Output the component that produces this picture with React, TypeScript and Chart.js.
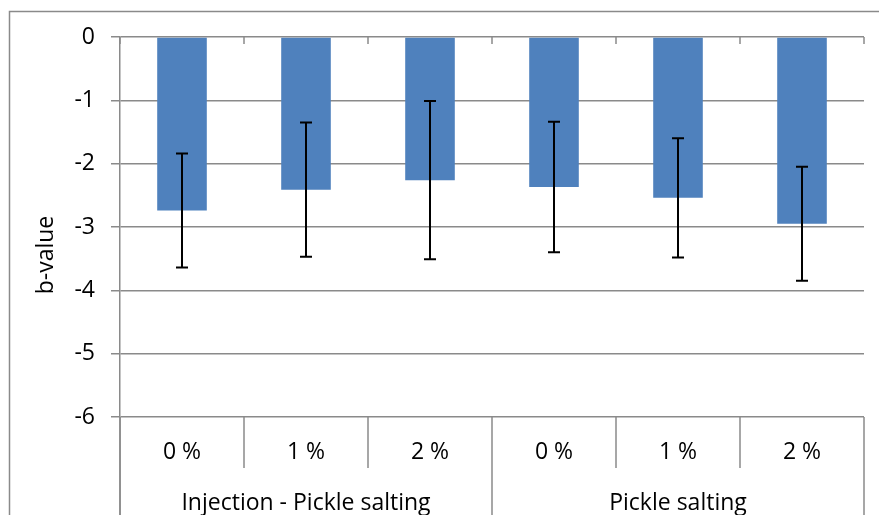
import React, { useEffect, useRef } from "react";
import { Chart, registerables } from "chart.js";

Chart.register(...registerables);

const categories = ["0 %", "1 %", "2 %", "0 %", "1 %", "2 %"];
const groups = ["Injection - Pickle salting", "Pickle salting"];
const groupSizes = [3, 3];
const bValues = [-2.74, -2.41, -2.26, -2.37, -2.54, -2.95];
const errors = [0.9, 1.06, 1.25, 1.03, 0.94, 0.9];
const yMin = -6;
const yMax = 0;
const yStep = 1;
const yTitle = "b-value";

const FONT = '"Open Sans", "Noto Sans", sans-serif';
const GRID = "#8a8a8a";
const FS = 23;

const customPlugin = {
  id: "custom",
  afterDatasetsDraw(chart: any) {
    const ctx = chart.ctx;
    const meta = chart.getDatasetMeta(0);
    const y = chart.scales.y;
    ctx.save();
    ctx.strokeStyle = "#000";
    ctx.lineWidth = 2;
    meta.data.forEach((bar: any, i: number) => {
      const cx = Math.round(bar.x);
      const top = y.getPixelForValue(bValues[i] + errors[i]);
      const bot = y.getPixelForValue(bValues[i] - errors[i]);
      ctx.beginPath();
      ctx.moveTo(cx, top);
      ctx.lineTo(cx, bot);
      ctx.moveTo(cx - 6, top);
      ctx.lineTo(cx + 6, top);
      ctx.moveTo(cx - 6, bot);
      ctx.lineTo(cx + 6, bot);
      ctx.stroke();
    });
    ctx.restore();
  },
  afterDraw(chart: any) {
    const ctx = chart.ctx;
    const { left, right, top, bottom } = chart.chartArea;
    const n = categories.length;
    const w = (right - left) / n;
    ctx.save();
    ctx.strokeStyle = GRID;
    ctx.lineWidth = 1.5;
    // outer frame
    ctx.beginPath();
    ctx.moveTo(9.5, chart.height);
    ctx.lineTo(9.5, 11.5);
    ctx.lineTo(chart.width, 11.5);
    ctx.stroke();
    // left axis extension
    ctx.beginPath();
    ctx.moveTo(left, bottom);
    ctx.lineTo(left, chart.height);
    ctx.stroke();
    // category ticks at top (axis crosses at 0)
    for (let i = 0; i <= n; i++) {
      const x = left + i * w;
      ctx.beginPath();
      ctx.moveTo(x, top);
      ctx.lineTo(x, top + 7);
      ctx.stroke();
    }
    // boundaries below plot
    const groupEdges = new Set<number>();
    let acc = 0;
    groupEdges.add(0);
    groupSizes.forEach((s) => {
      acc += s;
      groupEdges.add(acc);
    });
    for (let i = 0; i <= n; i++) {
      const x = left + i * w;
      ctx.beginPath();
      ctx.moveTo(x, bottom);
      ctx.lineTo(x, groupEdges.has(i) ? chart.height : bottom + 51);
      ctx.stroke();
    }
    // labels
    ctx.fillStyle = "#000";
    ctx.font = `${FS}px ${FONT}`;
    ctx.textAlign = "center";
    ctx.textBaseline = "middle";
    categories.forEach((c, i) => {
      ctx.fillText(c, left + (i + 0.5) * w, bottom + 35);
    });
    let start = 0;
    groups.forEach((g, gi) => {
      const s = groupSizes[gi];
      ctx.fillText(g, left + (start + s / 2) * w, bottom + 86);
      start += s;
    });
    // y title
    ctx.translate(46, 255);
    ctx.rotate(-Math.PI / 2);
    ctx.fillText(yTitle, 0, 0);
    ctx.restore();
  },
};

export default function App() {
  const ref = useRef<HTMLCanvasElement>(null);
  useEffect(() => {
    if (!ref.current) return;
    const chart = new Chart(ref.current, {
      type: "bar",
      data: {
        labels: categories,
        datasets: [
          {
            data: bValues,
            backgroundColor: "#4F81BD",
            borderWidth: 0,
            barPercentage: 0.4,
            categoryPercentage: 1,
          },
        ],
      },
      options: {
        responsive: false,
        animation: false,
        layout: { padding: { left: 0, top: 37, right: 15, bottom: 98 } },
        plugins: { legend: { display: false }, tooltip: { enabled: false } },
        scales: {
          x: { display: false },
          y: {
            min: yMin,
            max: yMax,
            ticks: {
              stepSize: yStep,
              color: "#000",
              font: { family: FONT, size: FS },
              padding: 16,
            },
            grid: { color: GRID, lineWidth: 1.5, tickLength: 9 },
            border: { display: true, color: GRID, width: 1.5 },
            afterFit: (scale: any) => {
              scale.width = 120;
            },
          },
        },
      },
      plugins: [customPlugin],
    });
    return () => chart.destroy();
  }, []);
  return (
    <div style={{ position: "fixed", left: 0, top: 0, width: 879, height: 515, background: "#fff" }}>
      <canvas ref={ref} width={879} height={515} style={{ width: 879, height: 515 }} />
    </div>
  );
}
